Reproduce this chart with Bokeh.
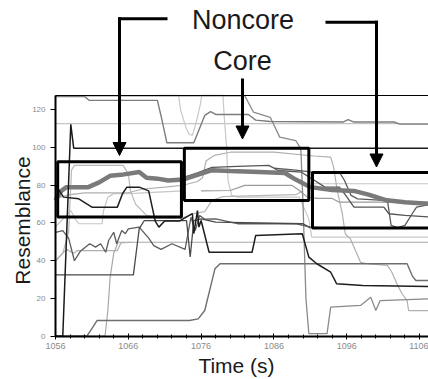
from math import pi
from bokeh.plotting import figure
from bokeh.models import Range1d, LinearAxis, FixedTicker, Label, Arrow, NormalHead
from bokeh.embed import file_html
from bokeh.resources import INLINE

# ---------------- data (time in s, resemblance) ----------------
x_ticks = [1056, 1066, 1076, 1086, 1096, 1106]
y_ticks = [0, 20, 40, 60, 80, 100, 120]

s01_t = [1056, 1060.0, 1060.6, 1070.0, 1070.6, 1071.3, 1075.0, 1076.5, 1077.3, 1078.0, 1082.5, 1083.5, 1085.5, 1095.5, 1096.2, 1097.0, 1102.5, 1103.3, 1108]
s01_v = [127.0, 127.0, 125.0, 125.0, 115.0, 102.5, 102.5, 117.0, 119.0, 117.5, 117.5, 114.5, 113.8, 113.5, 114.8, 113.5, 113.5, 112.4, 112.4]

s02_t = [1056, 1108]
s02_v = [112.6, 112.6]

s03_t = [1056, 1057.0, 1058.1, 1058.5, 1108]
s03_v = [0, 0, 112.3, 99.6, 99.6]

s04_t = [1056, 1056.8, 1057.5, 1060.5, 1062, 1063.5, 1065, 1067.5, 1068.5, 1070, 1071.5, 1073.5, 1075.5, 1077.5, 1080, 1084, 1087.5, 1089, 1091, 1094, 1097, 1099, 1101.5, 1104, 1108]
s04_v = [72, 77, 79, 79, 81.5, 85, 85.5, 87, 84, 83.5, 82.5, 83, 85.5, 88, 87.5, 87, 86.5, 83, 79, 77.5, 77, 75, 72, 71, 70]

s05_t = [1073.5, 1075.5, 1077.5, 1081, 1085.3, 1086.6, 1089.8, 1090.5, 1091.6, 1093, 1095, 1095.7, 1097, 1101.1, 1101.8, 1104, 1108]
s05_v = [84, 86.5, 89.5, 90, 90.5, 87.8, 86.9, 85.2, 82.5, 79, 79, 75.5, 68.4, 68.4, 64.9, 64, 63]

s06_t = [1086, 1089, 1091.3, 1095, 1095.7, 1096.6, 1097.5, 1101.6, 1102.1, 1103.0, 1104, 1105, 1105.6, 1108]
s06_v = [89, 88, 86.9, 86.9, 82.5, 74.6, 72.8, 71.9, 58.7, 57.6, 58.7, 64.9, 68.4, 70.2]

s07_t = [1056, 1057.1, 1059.2, 1061, 1064.5, 1065.2, 1065.8, 1067.5, 1068.8, 1069.7, 1070.2, 1071, 1073, 1074.8, 1075.0, 1075.5, 1075.7, 1076, 1077.1, 1083.0, 1083.5, 1089.9, 1090.8, 1091.9, 1093.8, 1094.4, 1094.6, 1098.2, 1108]
s07_v = [80.2, 73.7, 72.8, 68.4, 68.4, 75.5, 79, 79, 77, 61, 57.8, 61, 61, 65, 54.4, 66.6, 57.8, 61.3, 44.5, 44.5, 53.4, 54.3, 41.9, 38.4, 33.9, 29.5, 27.8, 26.9, 26.3]

s08_t = [1056, 1057, 1057.8, 1058.6, 1059.4, 1060.7, 1061.5, 1062.2, 1062.9, 1063.3, 1064, 1064.4, 1065.1, 1065.6, 1066, 1067.5, 1068.8, 1069.5, 1070.5, 1072, 1073.8, 1074.6, 1075.2, 1075.8, 1076.5, 1078, 1081, 1089, 1090, 1091, 1093, 1108]
s08_v = [55, 56, 52, 40, 45, 49, 47.2, 49, 44.5, 50.7, 55.1, 49, 56, 54.3, 56.9, 57.8, 52, 48, 46, 49, 46, 63, 56, 64, 62, 62.2, 59.6, 59.6, 58.7, 57.8, 57.4, 57.4]

s09_t = [1056, 1066.7, 1067.5, 1068.2, 1074, 1074.5, 1075, 1076, 1078, 1090, 1091]
s09_v = [32.5, 32.5, 57, 61.3, 61.3, 42, 61.3, 62.2, 60.5, 59.6, 57.4]

s10_t = [1056, 1060.3, 1061, 1061.7, 1074.4, 1075.6, 1076.5, 1077.9, 1078.6, 1104.3, 1105, 1105.5, 1108]
s10_v = [0, 0, 4, 8.3, 8.3, 9.2, 13.6, 35.7, 38.4, 38.4, 32, 29.5, 29.5]

s11_t = [1056, 1062.8, 1063.2, 1063.5, 1064, 1064.6, 1108]
s11_v = [0, 0, 14, 31, 44, 49.8, 49.8]

s12_t = [1056, 1057.5, 1058.5, 1059, 1064.5, 1065, 1066.5]
s12_v = [40, 46, 44, 45.4, 45.4, 49.5, 49.8]

s13_t = [1056, 1082, 1083.2, 1085.5, 1086.8, 1089, 1089.7, 1090.0, 1090.4, 1090.8, 1093.3, 1093.8, 1097.9, 1099.3, 1100.0, 1100.6, 1108]
s13_v = [127.4, 127.4, 118.7, 116, 105.5, 103.7, 99.3, 70, 20, 1.4, 1.4, 15.4, 16.3, 20.7, 13.6, 18.9, 19.9]

s14_t = [1056, 1058, 1060, 1066, 1068, 1071, 1073.5, 1075.5, 1076.2, 1076.7, 1077.8, 1080, 1086, 1091.5, 1093.8, 1094.2, 1094.7, 1095.4, 1095.8, 1096.5, 1097.4, 1097.9, 1098.8, 1101.6, 1102.2, 1102.9, 1103.6, 1104.3, 1104.5, 1108]
s14_v = [73, 75, 76, 76, 78, 79, 80, 82, 84, 93, 95.8, 97.5, 97.5, 95.5, 94.9, 89.6, 77.2, 64.9, 54.3, 51.6, 43.7, 39.2, 38.4, 37.5, 33.9, 27.8, 22.5, 18.9, 13.6, 13.6]

s15_t = [1070, 1072.9, 1073.2, 1073.9, 1074.3, 1074.8, 1075, 1075.5, 1075.9, 1076.1, 1079, 1079.2, 1079.5, 1079.7, 1080.2, 1081, 1089.5, 1090.8, 1091.2, 1108]
s15_v = [127.6, 127.6, 119.6, 110.8, 107.3, 106.4, 109, 116, 123, 127.6, 127.6, 115, 100.2, 82.5, 74.6, 73.7, 73.7, 62, 52.5, 52.5]

s16_t = [1056, 1057, 1057.8, 1058.2, 1058.6, 1065.3, 1066, 1066.3, 1067, 1068.5, 1070, 1073.3, 1075, 1076.5, 1077.5, 1079, 1085, 1089, 1090]
s16_v = [40, 44, 55, 88, 90.5, 90.5, 86, 77, 70, 64, 62.5, 62.5, 65, 66, 72, 74, 74.6, 75, 77]

s17_t = [1056, 1057.5, 1058.1, 1058.7, 1059.2, 1062.4, 1062.6, 1063.2, 1064, 1066, 1068, 1073.5]
s17_v = [58, 64, 66.6, 62.2, 59.6, 59.6, 66.6, 73.7, 75.5, 75.5, 76, 77]

s18_t = [1076, 1080, 1082, 1088.5, 1089.5, 1090.6, 1092, 1094, 1095, 1108]
s18_v = [77, 77.2, 79.9, 79.9, 77.2, 73.7, 73, 73, 71, 71]

s19_t = [1091, 1108]
s19_v = [80.8, 80.8]

box_left = [1056.3, 1073.7, 1091.3]
box_right = [1073.3, 1090.8, 1112.0]
box_bottom = [63.2, 71.9, 57.4]
box_top = [92.4, 99.6, 86.7]

Y_TOP = 127.6


# reference page pixels -> data coordinates (linear scale used by the plot)
def tx(x):
    return 1056 + (x - 55) / 7.28


def vy(y):
    return (335.7 - y) / 1.887


W, H = 428, 379
# the frame covers the whole canvas; axes are pinned at fixed data locations
p = figure(width=W, height=H, output_backend="svg", toolbar_location=None,
           x_range=Range1d(tx(0), tx(W)), y_range=Range1d(vy(H), vy(0)),
           min_border=0)
p.grid.visible = False
p.outline_line_color = None
p.background_fill_color = "white"
p.border_fill_color = "white"

FONT = "Liberation Sans"

xa = p.xaxis[0]
xa.fixed_location = 0
xa.bounds = (1056, 1110)
xa.ticker = FixedTicker(ticks=x_ticks, minor_ticks=list(range(1056, 1110, 2)))
xa.axis_line_color = "black"
xa.axis_line_width = 2
xa.major_tick_in = 3
xa.major_tick_out = 3
xa.minor_tick_in = 2
xa.minor_tick_out = 2
xa.major_tick_line_color = "black"
xa.minor_tick_line_color = "black"
xa.major_label_text_font = FONT
xa.major_label_text_font_size = "9px"
xa.major_label_text_color = "#8a8a8a"
xa.major_label_standoff = 4

ya = p.yaxis[0]
ya.fixed_location = 1056
ya.bounds = (0, Y_TOP)
ya.ticker = FixedTicker(ticks=y_ticks, minor_ticks=[])
ya.axis_line_color = "black"
ya.axis_line_width = 2
ya.major_tick_in = 0
ya.major_tick_out = 5
ya.major_tick_line_color = "black"
ya.major_label_text_font = FONT
ya.major_label_text_font_size = "8px"
ya.major_label_text_color = "#8a8a8a"
ya.major_label_standoff = 5

top_axis = LinearAxis(fixed_location=Y_TOP, bounds=(1056, 1110), ticker=FixedTicker(ticks=[]),
                      axis_line_color="black", axis_line_width=1.2,
                      major_tick_line_color=None, minor_tick_line_color=None)
p.add_layout(top_axis, "above")

# ---------------- series ----------------
series = [
    (s02_t, s02_v, "#c4c4c4", 1.2),
    (s15_t, s15_v, "#c8c8c8", 1.2),
    (s19_t, s19_v, "#c4c4c4", 1.2),
    (s17_t, s17_v, "#c6c6c6", 1.2),
    (s16_t, s16_v, "#b8b8b8", 1.2),
    (s14_t, s14_v, "#b0b0b0", 1.2),
    (s11_t, s11_v, "#a8a8a8", 1.2),
    (s12_t, s12_v, "#b0b0b0", 1.2),
    (s18_t, s18_v, "#9a9a9a", 1.2),
    (s13_t, s13_v, "#8a8a8a", 1.3),
    (s01_t, s01_v, "#7c7c7c", 1.4),
    (s10_t, s10_v, "#6e6e6e", 1.4),
    (s08_t, s08_v, "#5c5c5c", 1.3),
    (s09_t, s09_v, "#4a4a4a", 1.3),
    (s06_t, s06_v, "#5a5a5a", 1.3),
    (s05_t, s05_v, "#555555", 1.3),
    (s04_t, s04_v, "#7a7a7a", 4.5),
    (s07_t, s07_v, "#1e1e1e", 1.5),
    (s03_t, s03_v, "#1a1a1a", 1.5),
]
for t, v, c, w in series:
    p.line(t, v, line_color=c, line_width=w)

p.quad(left=box_left, right=box_right, bottom=box_bottom, top=box_top,
       fill_color=None, line_color="black", line_width=3)

# ---------------- annotations ----------------
segments = [
    ((117.5, 18.3), (167, 18.3)),
    ((325, 21.7), (377.5, 21.7)),
]
for (x0, y0), (x1, y1) in segments:
    p.add_layout(Arrow(end=None, x_start=tx(x0), y_start=vy(y0), x_end=tx(x1), y_end=vy(y1),
                       line_color="black", line_width=3))

arrows = [
    ((119, 16.8), (119, 155)),
    ((376, 20.2), (376, 166.5)),
    ((242, 78), (242, 138.5)),
]
for (x0, y0), (x1, y1) in arrows:
    p.add_layout(Arrow(end=NormalHead(size=13, fill_color="black", line_color="black", line_width=1),
                       x_start=tx(x0), y_start=vy(y0), x_end=tx(x1), y_end=vy(y1),
                       line_color="black", line_width=3))

p.add_layout(Label(x=tx(242.5), y=vy(19.8), text="Noncore", text_align="center",
                   text_baseline="alphabetic", text_font=FONT, text_font_size="27px", text_color="#1a1a1a"))
p.add_layout(Label(x=tx(242), y=vy(60.8), text="Core", text_align="center",
                   text_baseline="alphabetic", text_font=FONT, text_font_size="27px", text_color="#1a1a1a"))
p.add_layout(Label(x=tx(236), y=vy(364.5), text="Time (s)", text_align="center",
                   text_baseline="alphabetic", text_font=FONT, text_font_size="21px", text_color="#1a1a1a"))
p.add_layout(Label(x=tx(22), y=vy(220), text="Resemblance", text_align="center", angle=pi / 2,
                   text_baseline="alphabetic", text_font=FONT, text_font_size="21px", text_color="#1a1a1a"))

open("out.html", "w").write(file_html(p, INLINE))
